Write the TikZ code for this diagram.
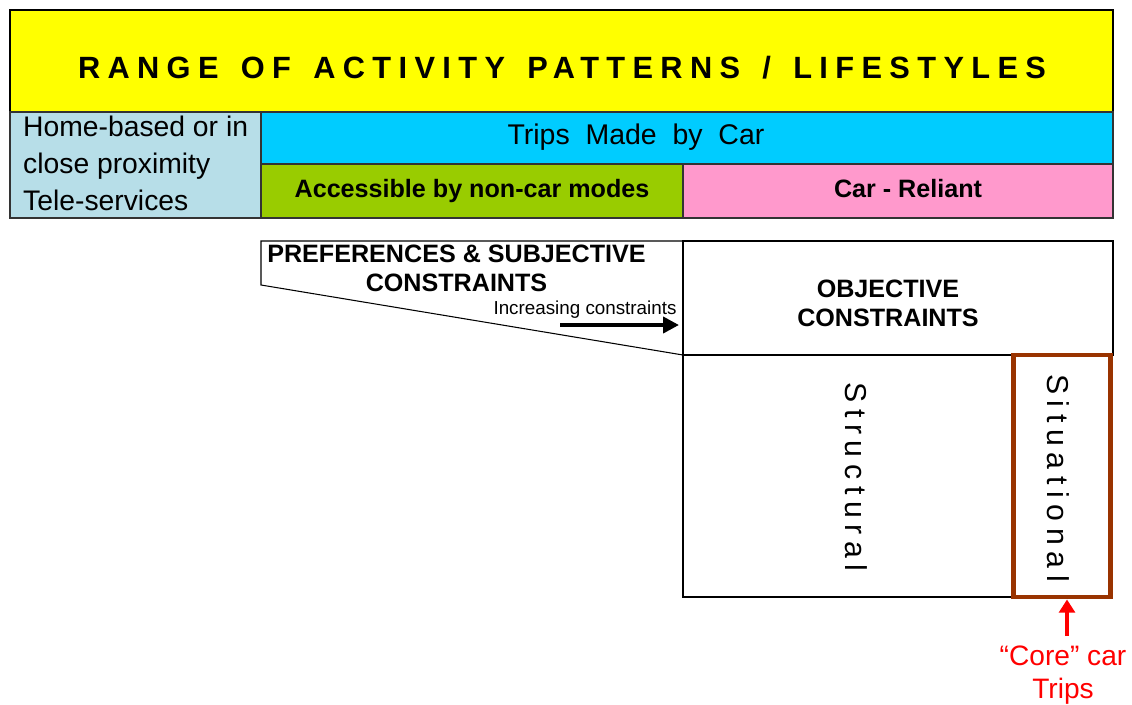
\documentclass[tikz,border=0pt]{standalone}
\usepackage{fontspec}
\setmainfont{Liberation Sans}
\newfontfamily\rangefont{Liberation Sans}[LetterSpace=24,WordSpace=1.4]
\usetikzlibrary{positioning}
\usetikzlibrary{arrows.meta}
\definecolor{hdryellow}{HTML}{FFFF00}
\definecolor{homeblue}{HTML}{B7DEE8}
\definecolor{carcyan}{HTML}{00CCFF}
\definecolor{modegreen}{HTML}{99CC00}
\definecolor{relpink}{HTML}{FF99CC}
\definecolor{corebrown}{HTML}{993300}
\tikzset{
    band/.style = {rectangle, draw=black!80, line width=0.6pt, inner sep=0pt, align=center},
    hdrband/.style = {band, draw=black, line width=1.5pt, fill=hdryellow},
    capstext/.style = {align=center, font=\fontsize{14.3}{16.5}\selectfont\bfseries},
    spaced/.style = {font=\fontsize{17.2}{20}\selectfont\addfontfeature{LetterSpace=22}},
    pointer/.style = {-{Triangle[length=9pt,width=9pt]}, line width=2.2pt},
    corepointer/.style = {-{Triangle[length=7.5pt,width=9pt]}, line width=2.8pt, red}
}
\begin{document}
\begin{tikzpicture}
\useasboundingbox (0,0) rectangle (22.64,-14.08);
\node[hdrband, minimum width=22.06cm, minimum height=2.04cm] at (11.23,-1.22) (range) {};
\node[font=\rangefont\fontsize{17.5}{20}\selectfont\bfseries] at (11.24,-1.36) (rangetxt) {RANGE OF ACTIVITY PATTERNS / LIFESTYLES};
%
\node[band, fill=homeblue, minimum width=5.02cm, minimum height=2.12cm] at (2.71,-3.30) (home) {};
\node[anchor=west, align=left, font=\fontsize{16.1}{21}\selectfont] at (0.34,-3.27) (hometxt) {Home-based or in\\close proximity\\Tele-services};
\node[band, fill=carcyan, minimum width=17.04cm, minimum height=1.04cm] at (13.74,-2.76) (trips) {};
\node[font=\fontsize{16.2}{18}\selectfont] at (12.72,-2.75) (tripstxt) {Trips\ \ Made\ \ by\ \ Car};
\node[band, fill=modegreen, minimum width=8.44cm, minimum height=1.08cm, capstext] at (9.44,-3.82) (access) {Accessible by non-car modes};
\node[band, fill=relpink, minimum width=8.6cm, minimum height=1.08cm] at (17.96,-3.82) (reliant) {};
\node[capstext] at (18.16,-3.77) (relianttxt) {Car - Reliant};
%
\coordinate (wa) at (5.22,-4.82);
\coordinate (wb) at (13.66,-4.82);
\coordinate (wc) at (13.66,-7.10);
\coordinate (wd) at (5.22,-5.70);
\draw[line width=0.6pt] (wa) -- (wb) -- (wc) -- (wd) -- cycle;
\node[capstext] at (9.13,-5.37) (pref) {PREFERENCES \& SUBJECTIVE\\CONSTRAINTS};
\node[font=\fontsize{10.7}{12}\selectfont] at (11.7,-6.2) (incr) {Increasing constraints};
\coordinate (ia) at (11.2,-6.5);
\coordinate (ib) at (13.58,-6.5);
\draw[pointer] (ia) -- (ib);
%
\node[band, draw=black, minimum width=8.6cm, minimum height=2.28cm] at (17.96,-5.96) (objective) {};
\node[capstext] at (17.76,-6.06) (objtxt) {OBJECTIVE\\CONSTRAINTS};
\node[band, draw=black, line width=1.2pt, minimum width=6.6cm, minimum height=4.84cm] at (16.96,-9.52) (struct) {};
\node[spaced, rotate=-90] at (17.12,-9.54) (structtxt) {Structural};
\node[band, draw=corebrown, line width=2.8pt, minimum width=1.94cm, minimum height=4.84cm] at (21.24,-9.52) (situ) {};
\node[spaced, rotate=-90] at (21.16,-9.56) (situtxt) {Situational};
%
\node[red, align=center, font=\fontsize{16}{19}\selectfont] at (21.26,-13.5) (core) {``Core'' car\\Trips};
\coordinate (cp) at (21.34,-12.72);
\draw[corepointer] (cp) -- (situ.south -| cp);
\end{tikzpicture}
\end{document}
